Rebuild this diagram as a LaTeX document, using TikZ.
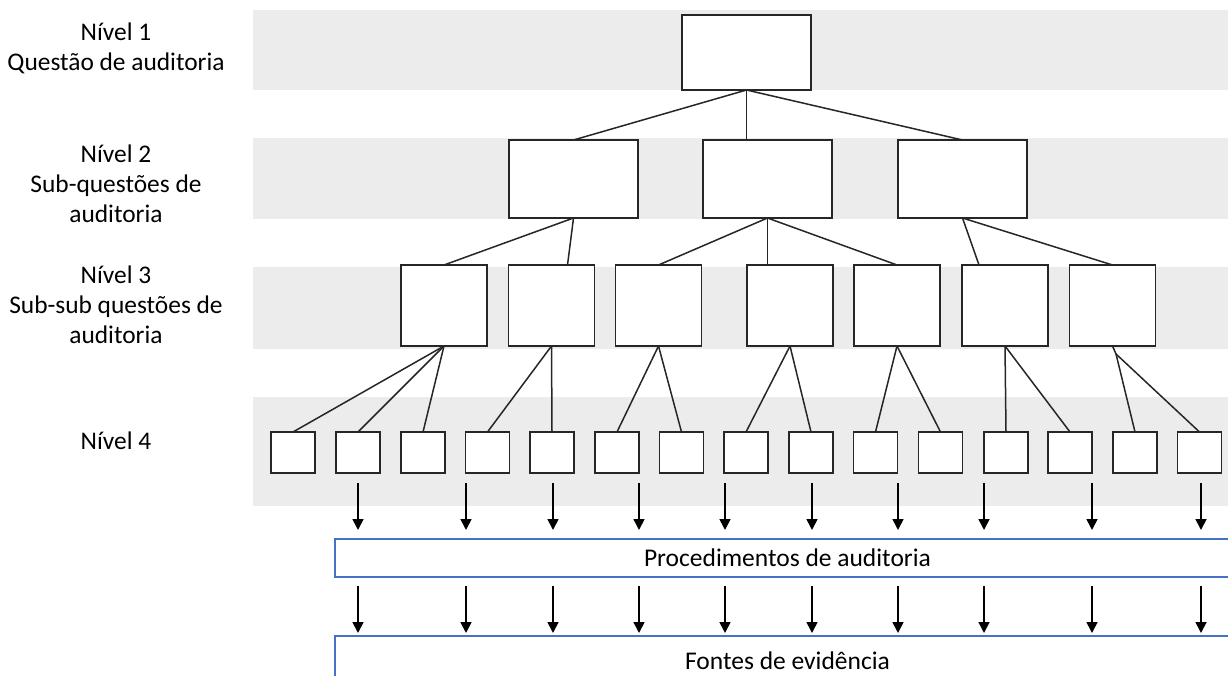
\documentclass[tikz,border=0pt]{standalone}
\usepackage{fontspec}
\setmainfont{Carlito}
\usetikzlibrary{arrows.meta,calc}
\definecolor{band}{RGB}{236,236,236}
\definecolor{boxblue}{RGB}{68,114,196}
\begin{document}
\begin{tikzpicture}[x=1pt,y=-1pt,
  every node/.style={inner sep=0pt,outer sep=0pt},
  lbl/.style={align=center,font=\fontsize{25.4}{30}\selectfont},
  lvone/.style={draw=black!85,line width=1.4pt,fill=white,minimum width=129pt,minimum height=75pt},
  lvtwo/.style={draw=black!85,line width=1.4pt,fill=white,minimum width=129pt,minimum height=78pt},
  lvthree/.style={draw=black!85,line width=1.4pt,fill=white,minimum width=86pt,minimum height=81pt},
  lvfour/.style={draw=black!85,line width=1.4pt,fill=white,minimum width=44pt,minimum height=41pt},
  conn/.style={draw=black!85,line width=1.5pt},
  arr/.style={draw=black,line width=1.7pt,-{Triangle[width=11pt,length=11pt]}},
  bluebar/.style={draw=boxblue,line width=1.4pt,fill=white,font=\fontsize{25.5}{30}\selectfont}
]
\useasboundingbox (0,0) rectangle (1228,676);
% bands
\fill[band] (253,10) rectangle (1228,90);
\fill[band] (253,138) rectangle (1228,219);
\fill[band] (253,267) rectangle (1228,349);
\fill[band] (253,397) rectangle (1228,506);
% labels
\node[lbl] (l1) at (116,48) {Nível 1\\Questão de auditoria};
\node[lbl] (l2) at (116,184) {Nível 2\\Sub-questões de\\auditoria};
\node[lbl] (l3) at (116,305) {Nível 3\\Sub-sub questões de\\auditoria};
\node[lbl] (l4) at (116,441) {Nível 4};
% level 1
\node[lvone] (t) at (746.5,52.5) {};
% level 2
\node[lvtwo] (m1) at (573.5,179) {};
\node[lvtwo] (m2) at (767.5,179) {};
\node[lvtwo] (m3) at (962.5,179) {};
% level 3
\foreach \n/\x in {1/444,2/551.5,3/658.5,4/790,5/897,6/1005,7/1112.5}
  \node[lvthree] (s\n) at (\x,305.5) {};
% level 4
\foreach \n/\x in {1/293,2/358,3/423,4/487.5,5/552,6/617,7/681.5,8/746,9/811,10/875.5,11/940.5,12/1006,13/1070,14/1135,15/1199.5}
  \node[lvfour] (q\n) at (\x,452.5) {};
% connectors level 1 -> 2
\draw[conn] (t.south) -- (m1.north);
\draw[conn] (t.south) -- (t.south |- m2.north);
\draw[conn] (t.south) -- (m3.north);
% level 2 -> 3
\draw[conn] (m1.south) -- (s1.north);
\draw[conn] (m1.south) -- ($(s2.north)+(16,0)$);
\draw[conn] (m2.south) -- (s3.north);
\draw[conn] (m2.south) -- (m2.south |- s4.north);
\draw[conn] (m2.south) -- (s5.north);
\draw[conn] (m3.south) -- ($(s6.north)+(-26,0)$);
\draw[conn] (m3.south) -- (s7.north);
% level 3 -> 4
\draw[conn] (s1.south) -- (q1.north);
\draw[conn] (s1.south) -- (q2.north);
\draw[conn] (s1.south) -- (q3.north);
\draw[conn] (s2.south) -- (q4.north);
\draw[conn] (s2.south) -- (q5.north);
\draw[conn] (s3.south) -- (q6.north);
\draw[conn] (s3.south) -- (q7.north);
\draw[conn] (s4.south) -- (q8.north);
\draw[conn] (s4.south) -- (q9.north);
\draw[conn] (s5.south) -- (q10.north);
\draw[conn] (s5.south) -- (q11.north);
\draw[conn] (s6.south) -- (q12.north);
\draw[conn] (s6.south) -- (q13.north);
\coordinate (k7) at ($(s7.south)+(3.5,8)$);
\draw[conn] (s7.south) -- (k7) -- (q14.north);
\draw[conn] (k7) -- (q15.north);
% bars
\node[bluebar,minimum width=905pt,minimum height=38pt] (p) at (787.5,558) {Procedimentos de auditoria};
\node[bluebar,minimum width=905pt,minimum height=50pt] (f) at (787.5,661) {Fontes de evidência};
% arrows
\foreach \n/\x in {1/358,2/466,3/553,4/639,5/725,6/812,7/898,8/984,9/1092,10/1201} {
  \coordinate (u\n) at (\x,483);
  \draw[arr] (u\n) -- (\x,530);
  \coordinate (v\n) at (\x,586);
  \draw[arr] (v\n) -- (\x,633);
}
\end{tikzpicture}
\end{document}
